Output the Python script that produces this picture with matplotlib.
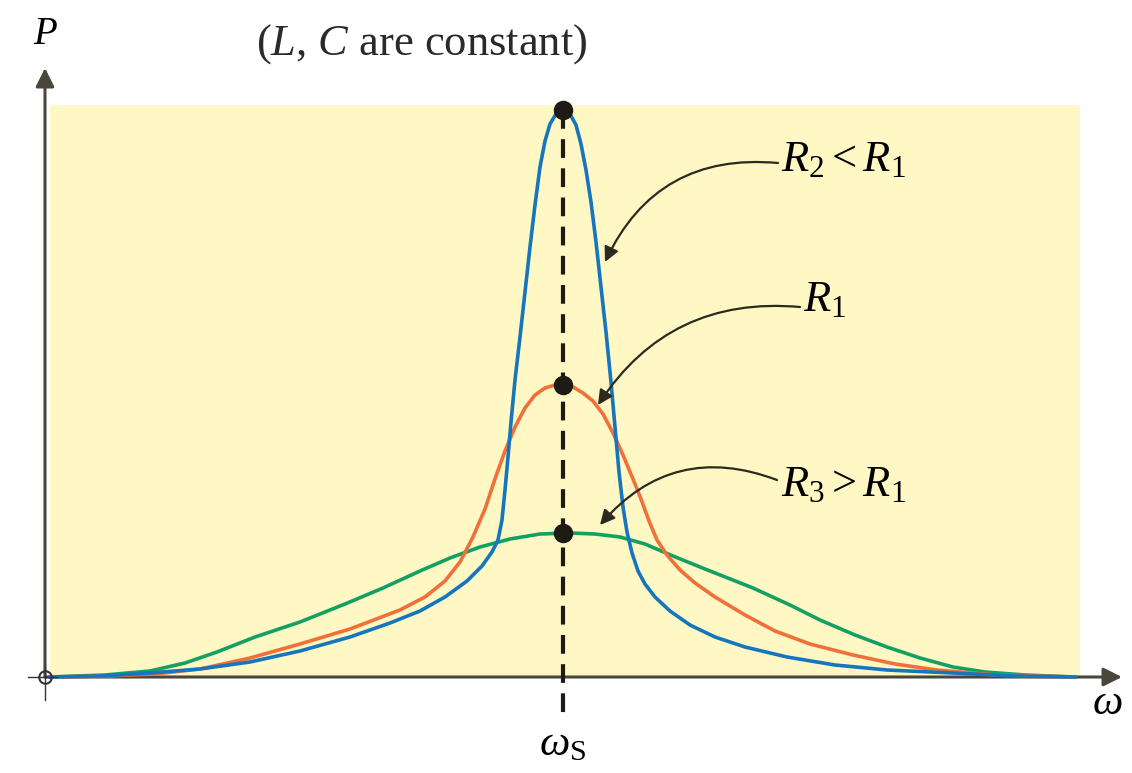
import matplotlib
matplotlib.use("Agg")
import matplotlib.pyplot as plt
from matplotlib.patches import Rectangle

plt.rcParams['font.family'] = ['Liberation Serif', 'DejaVu Serif']
plt.rcParams['mathtext.fontset'] = 'custom'
plt.rcParams['mathtext.rm'] = 'Liberation Serif'
plt.rcParams['mathtext.it'] = 'Liberation Serif:italic'

# values (arbitrary units)
w_s = 5.18

blue_w = [0.05, 0.55, 1.05, 1.55, 2.05, 2.55, 3.05, 3.45, 3.75, 4.00, 4.22, 4.37, 4.47, 4.53, 4.57,
          4.60, 4.63, 4.66, 4.70, 4.75, 4.80, 4.85, 4.90, 4.95, 5.00, 5.05, 5.11, 5.18, 5.25, 5.31,
          5.36, 5.41, 5.46, 5.51, 5.56, 5.61, 5.66, 5.70, 5.74, 5.78, 5.82, 5.87, 5.93, 6.00, 6.10,
          6.25, 6.45, 6.70, 7.00, 7.42, 7.90, 8.42, 9.08, 9.70, 10.30]
blue_p = [0.00, 0.01, 0.04, 0.08, 0.15, 0.26, 0.40, 0.54, 0.66, 0.80, 0.96, 1.11, 1.25, 1.37, 1.57,
          1.87, 2.20, 2.55, 2.97, 3.40, 3.85, 4.30, 4.72, 5.10, 5.36, 5.53, 5.63, 5.67, 5.63, 5.52,
          5.33, 5.07, 4.75, 4.35, 3.90, 3.45, 2.95, 2.50, 2.05, 1.70, 1.45, 1.24, 1.06, 0.93, 0.80,
          0.66, 0.52, 0.40, 0.30, 0.20, 0.12, 0.07, 0.04, 0.01, 0.00]

orange_w = [0.05, 0.60, 1.10, 1.55, 2.05, 2.55, 3.05, 3.55, 3.80, 4.00, 4.15, 4.28, 4.40, 4.50, 4.60,
            4.70, 4.80, 4.90, 5.00, 5.10, 5.18, 5.28, 5.38, 5.48, 5.58, 5.68, 5.78, 5.88, 5.96, 6.04,
            6.12, 6.22, 6.35, 6.50, 6.70, 7.00, 7.30, 7.65, 8.08, 8.50, 8.92, 9.50, 10.30]
orange_p = [0.00, 0.01, 0.03, 0.08, 0.19, 0.33, 0.48, 0.67, 0.80, 0.96, 1.15, 1.40, 1.68, 1.98, 2.26,
            2.50, 2.69, 2.82, 2.89, 2.92, 2.92, 2.90, 2.84, 2.76, 2.63, 2.44, 2.22, 1.98, 1.78, 1.56,
            1.37, 1.22, 1.07, 0.94, 0.80, 0.62, 0.46, 0.33, 0.22, 0.13, 0.07, 0.02, 0.00]

green_w = [0.05, 0.60, 1.05, 1.40, 1.72, 2.10, 2.55, 3.00, 3.38, 3.75, 4.05, 4.35, 4.65, 4.95, 5.25,
           5.50, 5.75, 6.00, 6.28, 6.60, 7.08, 7.45, 7.75, 8.10, 8.42, 8.75, 9.08, 9.40, 9.80, 10.30]
green_p = [0.00, 0.02, 0.06, 0.14, 0.25, 0.40, 0.55, 0.73, 0.89, 1.06, 1.19, 1.30, 1.38, 1.43, 1.44,
           1.43, 1.40, 1.33, 1.21, 1.08, 0.89, 0.72, 0.57, 0.42, 0.30, 0.19, 0.10, 0.05, 0.02, 0.00]

peaks = [5.67, 2.92, 1.44]

fig = plt.figure(figsize=(11.32, 7.73), dpi=100)
ax = fig.add_axes([0, 0, 1, 1])
ax.set_xlim(-0.45, 10.87)
ax.set_ylim(-0.96, 6.77)
ax.axis('off')

# yellow background
ax.add_patch(Rectangle((0.05, 0), 10.30, 5.72, facecolor='#fff7c4', edgecolor='none', zorder=0))

# axes with arrows
axis_col = '#4a463c'
ax.annotate('', xy=(0, 6.09), xytext=(0, 0),
            arrowprops=dict(arrowstyle='-|>', color=axis_col, lw=2.2, mutation_scale=28, shrinkA=0, shrinkB=0))
ax.annotate('', xy=(10.77, 0), xytext=(0, 0),
            arrowprops=dict(arrowstyle='-|>', color=axis_col, lw=2.2, mutation_scale=28, shrinkA=0, shrinkB=0))
ax.plot([0], [0], 'o', ms=9, mfc='none', mec='#333333', mew=1.5, zorder=5)
ax.plot([-0.17, 0.12], [0, 0], color='#333333', lw=1, zorder=5)
ax.plot([0, 0], [-0.23, 0.1], color='#333333', lw=1, zorder=5)

# curves
ax.plot(green_w, green_p, color='#13a062', lw=2.6, zorder=3, solid_joinstyle='round')
ax.plot(orange_w, orange_p, color='#f0703a', lw=2.6, zorder=3, solid_joinstyle='round')
ax.plot(blue_w, blue_p, color='#1576bd', lw=2.6, zorder=3, solid_joinstyle='round')

# dashed line at resonance
ax.plot([w_s, w_s], [peaks[0], -0.43], color='#1e1a14', lw=3, dashes=(4.5, 2.5), zorder=4)
ax.plot([w_s] * 3, peaks, 'o', color='#1e1a14', ms=13, zorder=6)

# labels
ax.text(0.0, 6.42, 'P', style='italic', fontsize=28, ha='center', va='center')
ax.text(3.77, 6.33, '($L$, $C$ are constant)', fontsize=32, ha='center', va='center', color='#2a2a2a')
ax.text(w_s, -0.68, r'$\omega_{\mathrm{S}}$', fontsize=31, ha='center', va='center')
ax.text(10.62, -0.27, r'$\omega$', fontsize=31, ha='center', va='center')

arrow_kw = dict(arrowstyle='-|>', color='#2b2a20', lw=1.6, mutation_scale=22, shrinkA=0, shrinkB=0)
ax.text(7.36, 5.17, r'$R_2 < R_1$', fontsize=32, ha='left', va='center')
ax.annotate('', xy=(5.60, 4.15), xytext=(7.33, 5.14),
            arrowprops=dict(connectionstyle='arc3,rad=0.35', **arrow_kw))
ax.text(7.58, 3.77, r'$R_1$', fontsize=32, ha='left', va='center')
ax.annotate('', xy=(5.53, 2.72), xytext=(7.55, 3.70),
            arrowprops=dict(connectionstyle='arc3,rad=0.3', **arrow_kw))
ax.text(7.36, 1.92, r'$R_3 > R_1$', fontsize=32, ha='left', va='center')
ax.annotate('', xy=(5.55, 1.52), xytext=(7.32, 1.97),
            arrowprops=dict(connectionstyle='arc3,rad=0.35', **arrow_kw))

fig.savefig('out.png', dpi=100)
